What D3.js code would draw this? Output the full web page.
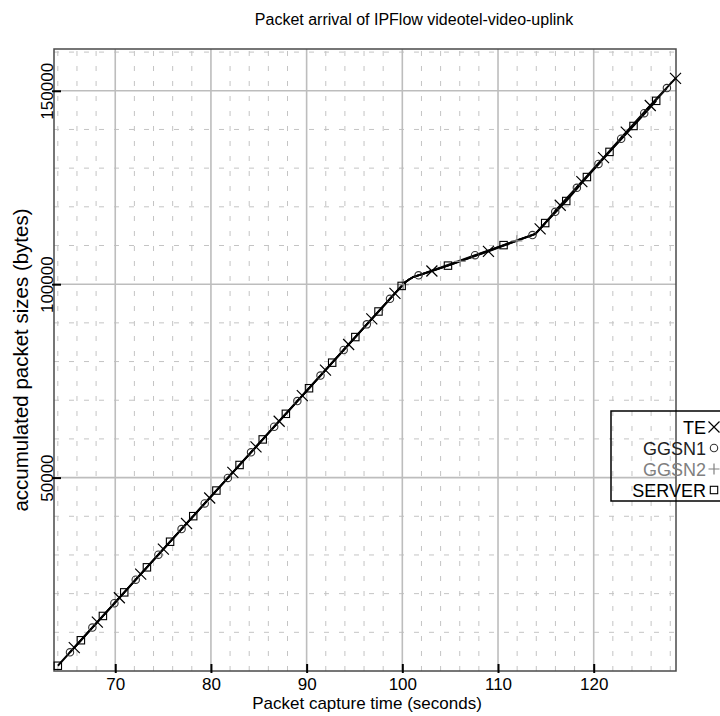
<!DOCTYPE html>
<html><head><meta charset="utf-8">
<script src="https://cdn.jsdelivr.net/npm/d3@7"></script>
<style>body{margin:0;background:#fff}svg{display:block}text{font-family:"Liberation Sans",Arial,sans-serif}</style>
</head><body><svg id="c" width="720" height="716"></svg>
<script>
// ---- data (time in seconds, accumulated bytes) ----
const xDomain = [63.6, 128.6];
const yDomain = [0, 160800];
const xTicks = [70, 80, 90, 100, 110, 120];
const yTicks = [50000, 100000, 150000];
const seriesNames = ["TE", "GGSN1", "GGSN2", "SERVER"];

const teTimes = [65.72,68.13,70.43,72.66,75.03,77.45,79.87,82.29,84.71,87.13,89.55,91.97,94.39,96.81,99.23,103.09,109.0,114.4,116.5,118.76,121.03,123.4,125.91,128.55];
const teBytes = [6060,12650,18930,25030,31500,38120,44730,51350,57960,64570,71190,77800,84410,91030,97640,103400,108500,114300,120400,126500,132700,139300,146200,153200];

const ggsn1Times = [65.27,67.61,69.91,72.14,74.51,76.93,79.35,81.77,84.19,86.61,89.03,91.45,93.87,96.29,98.71,101.7,107.6,113.6,115.98,118.24,120.5,122.87,125.28,127.65];
const ggsn1Bytes = [4830,11220,17510,23610,30080,36700,43310,49920,56540,63150,69770,76380,82990,89610,96220,102300,107500,112700,118700,124900,131100,137600,144200,150700];

const ggsn2Times = [100.1, 106.05, 111.97];
const ggsn2Bytes = [99900, 105900, 111200];

const serverTimes = [64.0,66.41,68.71,70.94,73.31,75.73,78.15,80.57,82.99,85.41,87.83,90.25,92.67,95.09,97.51,99.93,104.77,110.58,114.93,117.13,119.29,121.65,124.16,126.53];
const serverBytes = [1360,7950,14230,20330,26800,33420,40030,46650,53260,59870,66490,73100,79710,86330,92940,99550,104800,110100,115800,121500,127700,134200,140900,147400];

// unmarked packets at the two bends of the flow (shared by all capture points)
const bendTimes = [100.3, 100.7, 101.1, 113.9];
const bendBytes = [100500, 101200, 101800, 113000];

// ---- drawing ----
const svg = d3.select("#c");
const L = 54, R = 676, T = 49, B = 671;
const x = d3.scaleLinear().domain(xDomain).range([L, R]);
const y = d3.scaleLinear().domain(yDomain).range([B, T]);

// minor grid
const minorX = d3.range(64, 129, 2).filter(v => v % 10 !== 0);
const minorY = d3.range(10000, 161000, 10000).filter(v => v % 50000 !== 0);
const g = svg.append("g");
g.selectAll(".mx").data(minorX).join("line")
  .attr("x1", d => x(d)).attr("x2", d => x(d)).attr("y1", B).attr("y2", T)
  .attr("stroke", "#c4c4c4").attr("stroke-width", 1).attr("stroke-dasharray", "5,10");
g.selectAll(".my").data(minorY).join("line")
  .attr("y1", d => y(d)).attr("y2", d => y(d)).attr("x1", L).attr("x2", R)
  .attr("stroke", "#c4c4c4").attr("stroke-width", 1).attr("stroke-dasharray", "5,10");
// major grid
g.selectAll(".gx").data(xTicks).join("line")
  .attr("x1", d => x(d)).attr("x2", d => x(d)).attr("y1", B).attr("y2", T)
  .attr("stroke", "#bdbdbd").attr("stroke-width", 1.6);
g.selectAll(".gy").data(yTicks).join("line")
  .attr("y1", d => y(d)).attr("y2", d => y(d)).attr("x1", L).attr("x2", R)
  .attr("stroke", "#bdbdbd").attr("stroke-width", 1.6);

// frame
svg.append("rect").attr("x", L).attr("y", T).attr("width", R - L).attr("height", B - T)
  .attr("fill", "none").attr("stroke", "#4a4a4a").attr("stroke-width", 1.5);

// axes (ticks + labels)
const xAxis = d3.axisBottom(x).tickValues(xTicks).tickSize(0).tickPadding(0);
const gx = svg.append("g").attr("transform", `translate(0,${B})`).call(xAxis);
gx.select(".domain").remove();
gx.selectAll(".tick text").attr("font-size", 17).attr("fill", "#000").attr("dy", null).attr("y", 19);
gx.selectAll(".tick").append("line").attr("y1", 2).attr("y2", -7).attr("stroke", "#000").attr("stroke-width", 2);

const yAxis = d3.axisLeft(y).tickValues(yTicks).tickSize(0).tickPadding(0).tickFormat(d3.format("d"));
const gy = svg.append("g").attr("transform", `translate(${L},0)`).call(yAxis);
gy.select(".domain").remove();
gy.selectAll(".tick text").attr("font-size", 17).attr("fill", "#000")
  .attr("x", null).attr("dy", null).attr("text-anchor", "middle")
  .attr("transform", "translate(-1,0) rotate(-90)");
gy.selectAll(".tick").append("line").attr("x1", -2).attr("x2", 7).attr("stroke", "#000").attr("stroke-width", 2);

// titles
svg.append("text").attr("x", 414).attr("y", 25).attr("text-anchor", "middle").attr("font-size", 16).text("Packet arrival of IPFlow videotel-video-uplink");
svg.append("text").attr("x", 367).attr("y", 709).attr("text-anchor", "middle").attr("font-size", 17).text("Packet capture time (seconds)");
svg.append("text").attr("transform", "translate(28,360) rotate(-90)").attr("text-anchor", "middle").attr("font-size", 20.5).text("accumulated packet sizes (bytes)");

// series
const series = [
  {name: "GGSN2", t: ggsn2Times, b: ggsn2Bytes, color: "#8c8c8c", mark: "plus"},
  {name: "TE", t: teTimes, b: teBytes, color: "#000", mark: "cross"},
  {name: "GGSN1", t: ggsn1Times, b: ggsn1Bytes, color: "#111", mark: "circle"},
  {name: "SERVER", t: serverTimes, b: serverBytes, color: "#000", mark: "square"}
];
const line = d3.line().x(d => x(d[0])).y(d => y(d[1]));
function drawMark(sel, type, color) {
  if (type === "cross") {
    sel.append("path").attr("d", "M-5.5,-5.5L5.5,5.5M-5.5,5.5L5.5,-5.5").attr("stroke", color).attr("stroke-width", 1.2).attr("fill", "none");
  } else if (type === "plus") {
    sel.append("path").attr("d", "M-5.5,0L5.5,0M0,-5.5L0,5.5").attr("stroke", color).attr("stroke-width", 1.2).attr("fill", "none");
  } else if (type === "circle") {
    sel.append("circle").attr("r", 3.7).attr("stroke", "#333").attr("stroke-width", 1.1).attr("fill", "none");
  } else {
    sel.append("rect").attr("x", -3.7).attr("y", -3.7).attr("width", 7.4).attr("height", 7.4).attr("stroke", color).attr("stroke-width", 1.1).attr("fill", "none");
  }
}
series.forEach(s => {
  const pts = s.t.map((t, i) => [t, s.b[i]]);
  const t0 = d3.min(s.t), t1 = d3.max(s.t);
  bendTimes.forEach((t, i) => { if (t > t0 && t < t1) pts.push([t, bendBytes[i]]); });
  pts.sort((a, b) => a[0] - b[0]);
  svg.append("path").datum(pts).attr("d", line).attr("fill", "none")
    .attr("stroke", s.color).attr("stroke-width", 1.9).attr("stroke-linejoin", "round");
});
series.forEach(s => {
  const pts = s.t.map((t, i) => [t, s.b[i]]);
  svg.append("g").selectAll("g").data(pts).join("g")
    .attr("transform", d => `translate(${x(d[0])},${y(d[1])})`)
    .each(function() { drawMark(d3.select(this), s.mark, s.color); });
});

// legend
const legendRows = [
  {name: "TE", mark: "cross", color: "#000"},
  {name: "GGSN1", mark: "circle", color: "#222"},
  {name: "GGSN2", mark: "plus", color: "#808080"},
  {name: "SERVER", mark: "square", color: "#000"}
];
const lg = svg.append("g");
lg.append("rect").attr("x", 611).attr("y", 411).attr("width", 130).attr("height", 90)
  .attr("fill", "none").attr("stroke", "#000").attr("stroke-width", 1.5);
legendRows.forEach((r, i) => {
  const yy = 427 + i * 21;
  lg.append("text").attr("x", 706).attr("y", yy + 6.5).attr("text-anchor", "end")
    .attr("font-size", 18).attr("fill", r.color).text(r.name);
  const m = lg.append("g").attr("transform", `translate(714,${yy})`);
  drawMark(m, r.mark, r.color);
});
</script></body></html>
